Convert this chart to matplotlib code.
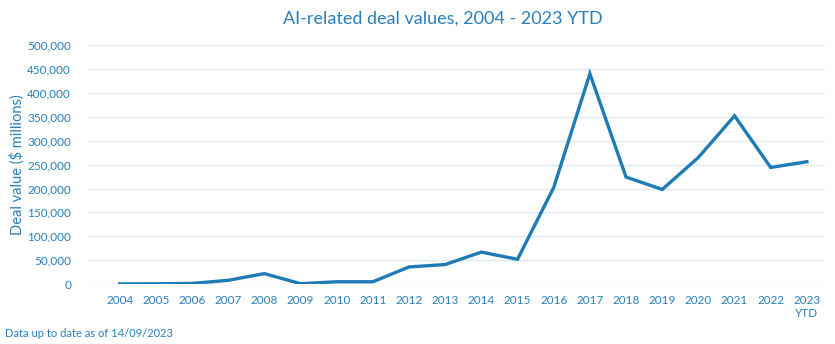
import matplotlib.pyplot as plt
from matplotlib.ticker import FuncFormatter

years = ['2004', '2005', '2006', '2007', '2008', '2009', '2010', '2011', '2012', '2013',
         '2014', '2015', '2016', '2017', '2018', '2019', '2020', '2021', '2022', '2023\nYTD']
deal_values = [500, 700, 1500, 8000, 22000, 1000, 5000, 5000, 36000, 41000,
               67000, 52000, 202000, 440000, 224000, 198000, 265000, 352000, 244000, 256000]

txt = '#2a7fba'
line_col = '#1f7bb6'
grid_col = '#dce9f4'

plt.rcParams['font.family'] = ['Lato', 'DejaVu Sans']

fig = plt.figure(figsize=(8.35, 3.44), dpi=100)
ax = fig.add_axes([0.105, 0.174, 0.883, 0.695])

x = list(range(len(years)))
ax.plot(x, deal_values, color=line_col, lw=2.4, solid_joinstyle='miter')

ax.set_ylim(0, 500000)
ax.set_yticks(range(0, 500001, 50000))
ax.yaxis.set_major_formatter(FuncFormatter(lambda v, p: f'{int(v):,}'))
ax.set_xlim(-0.885, 19.5)
ax.set_xticks(x)
ax.set_xticklabels(years, va='top')

ax.grid(axis='y', color=grid_col, lw=1)
ax.set_axisbelow(True)
for s in ax.spines.values():
    s.set_visible(False)
ax.tick_params(length=0, colors=txt, labelsize=8.5)
ax.tick_params(axis='y', pad=12)
ax.tick_params(axis='x', pad=8)
for lab in ax.get_xticklabels():
    lab.set_multialignment('center')

ax.set_ylabel('Deal value ($ millions)', color=txt, fontsize=10.5, labelpad=2)
fig.text(0.53, 0.945, 'AI-related deal values, 2004 - 2023 YTD', color=txt,
         fontsize=13, ha='center', va='center')
fig.text(0.006, 0.02, 'Data up to date as of 14/09/2023', color=txt, fontsize=8)

fig.savefig('out.png', dpi=100)
